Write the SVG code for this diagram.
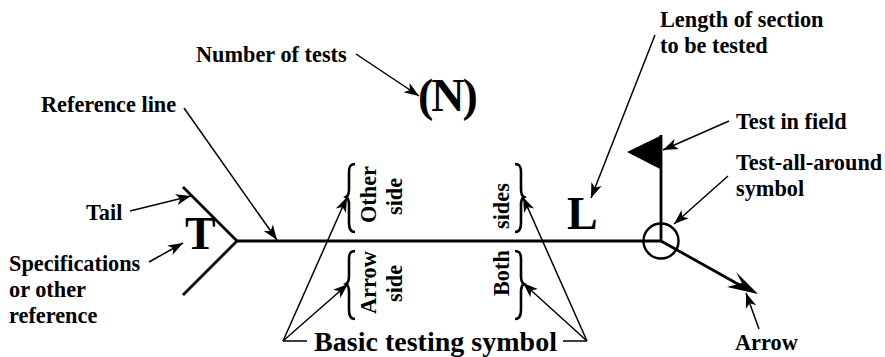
<svg xmlns="http://www.w3.org/2000/svg" width="885" height="357" viewBox="0 0 885 357">
<style>
text{font-family:"Liberation Serif","Times New Roman",serif;font-weight:bold;fill:#000}
.s{font-size:22.3px}
.b{font-size:46px}
.m{font-size:28px}
.l{stroke:#000;stroke-width:1.5;fill:none}
.h{stroke:#000;stroke-width:2.8;fill:none}
.br{stroke:#000;stroke-width:2.6;fill:none}
</style>
<defs>
<marker id="a" markerUnits="userSpaceOnUse" markerWidth="20" markerHeight="16" refX="15" refY="8" orient="auto">
<path d="M15,8 L0,2.5 L4,8 L0,13.5 Z" fill="#000"/>
</marker>
</defs>
<rect width="885" height="357" fill="#fff"/>
<g id="connectors">
<path class="l" d="M356,54L419,96" marker-end="url(#a)"/>
<path class="l" d="M184,108L277,240" marker-end="url(#a)"/>
<path class="l" d="M130,211L191,196" marker-end="url(#a)"/>
<path class="l" d="M149,262L183,243" marker-end="url(#a)"/>
<path class="l" d="M283,341L347,197" marker-end="url(#a)"/>
<path class="l" d="M283,341L348,284" marker-end="url(#a)"/>
<path class="l" d="M283,341H307"/>
<path class="l" d="M587,341L523,197" marker-end="url(#a)"/>
<path class="l" d="M587,341L523,283" marker-end="url(#a)"/>
<path class="l" d="M563,341H587"/>
<path class="l" d="M655,35L591,198" marker-end="url(#a)"/>
<path class="l" d="M729,121L663,150" marker-end="url(#a)"/>
<path class="l" d="M728,176L674,224" marker-end="url(#a)"/>
<path class="l" d="M759,329L746,293" marker-end="url(#a)"/>
</g>
<g id="symbol">
<path class="h" d="M183,187L237,241L183,295"/>
<path class="h" d="M237,241H661V135"/>
<path d="M627,152L662,135V170Z" fill="#000"/>
<circle cx="661" cy="241" r="17.5" fill="none" stroke="#000" stroke-width="2.4"/>
<path class="h" d="M661,241L745,288"/>
<path d="M758,294L736,272L742,283L727,287Z" fill="#000"/>
</g>
<g id="braces">
<path class="br" d="M355,164C350,164 349,167 349,172V189C349,193 348,196 346,197C348,198 349,201 349,205V223C349,228 350,232 355,232"/>
<path class="br" d="M355,251C350,251 349,254 349,259V276C349,280 348,283 346,284C348,285 349,288 349,292V310C349,315 350,319 355,319"/>
<path class="br" d="M515,164C520,164 521,167 521,172V189C521,193 522,196 524,197C522,198 521,201 521,205V223C521,228 520,232 515,232"/>
<path class="br" d="M515,251C520,251 521,254 521,259V276C521,280 522,283 524,284C522,285 521,288 521,292V310C521,315 520,319 515,319"/>
</g>
<g id="labels">
<text class="s" x="196" y="62">Number of tests</text>
<text class="s" x="41" y="112">Reference line</text>
<text class="s" x="86" y="220">Tail</text>
<text class="s" x="9" y="271">Specifications</text>
<text class="s" x="9" y="297">or other</text>
<text class="s" x="9" y="323">reference</text>
<text class="s" x="660" y="27">Length of section</text>
<text class="s" x="660" y="53">to be tested</text>
<text class="s" x="736" y="129">Test in field</text>
<text class="s" x="736" y="170">Test-all-around</text>
<text class="s" x="736" y="196">symbol</text>
<text class="s" x="735" y="350">Arrow</text>
<text class="m" x="314" y="351" textLength="243">Basic testing symbol</text>
<text class="b" x="185" y="249">T</text>
<text class="b" x="418" y="111" letter-spacing="-2">(N)</text>
<text class="b" x="567" y="229">L</text>
<text class="s" transform="translate(376,223) rotate(-90)">Other</text>
<text class="s" transform="translate(402,215) rotate(-90)">side</text>
<text class="s" transform="translate(376,314) rotate(-90)">Arrow</text>
<text class="s" transform="translate(402,302) rotate(-90)">side</text>
<text class="s" transform="translate(509,229) rotate(-90)">sides</text>
<text class="s" transform="translate(509,296) rotate(-90)">Both</text>
</g>
</svg>
